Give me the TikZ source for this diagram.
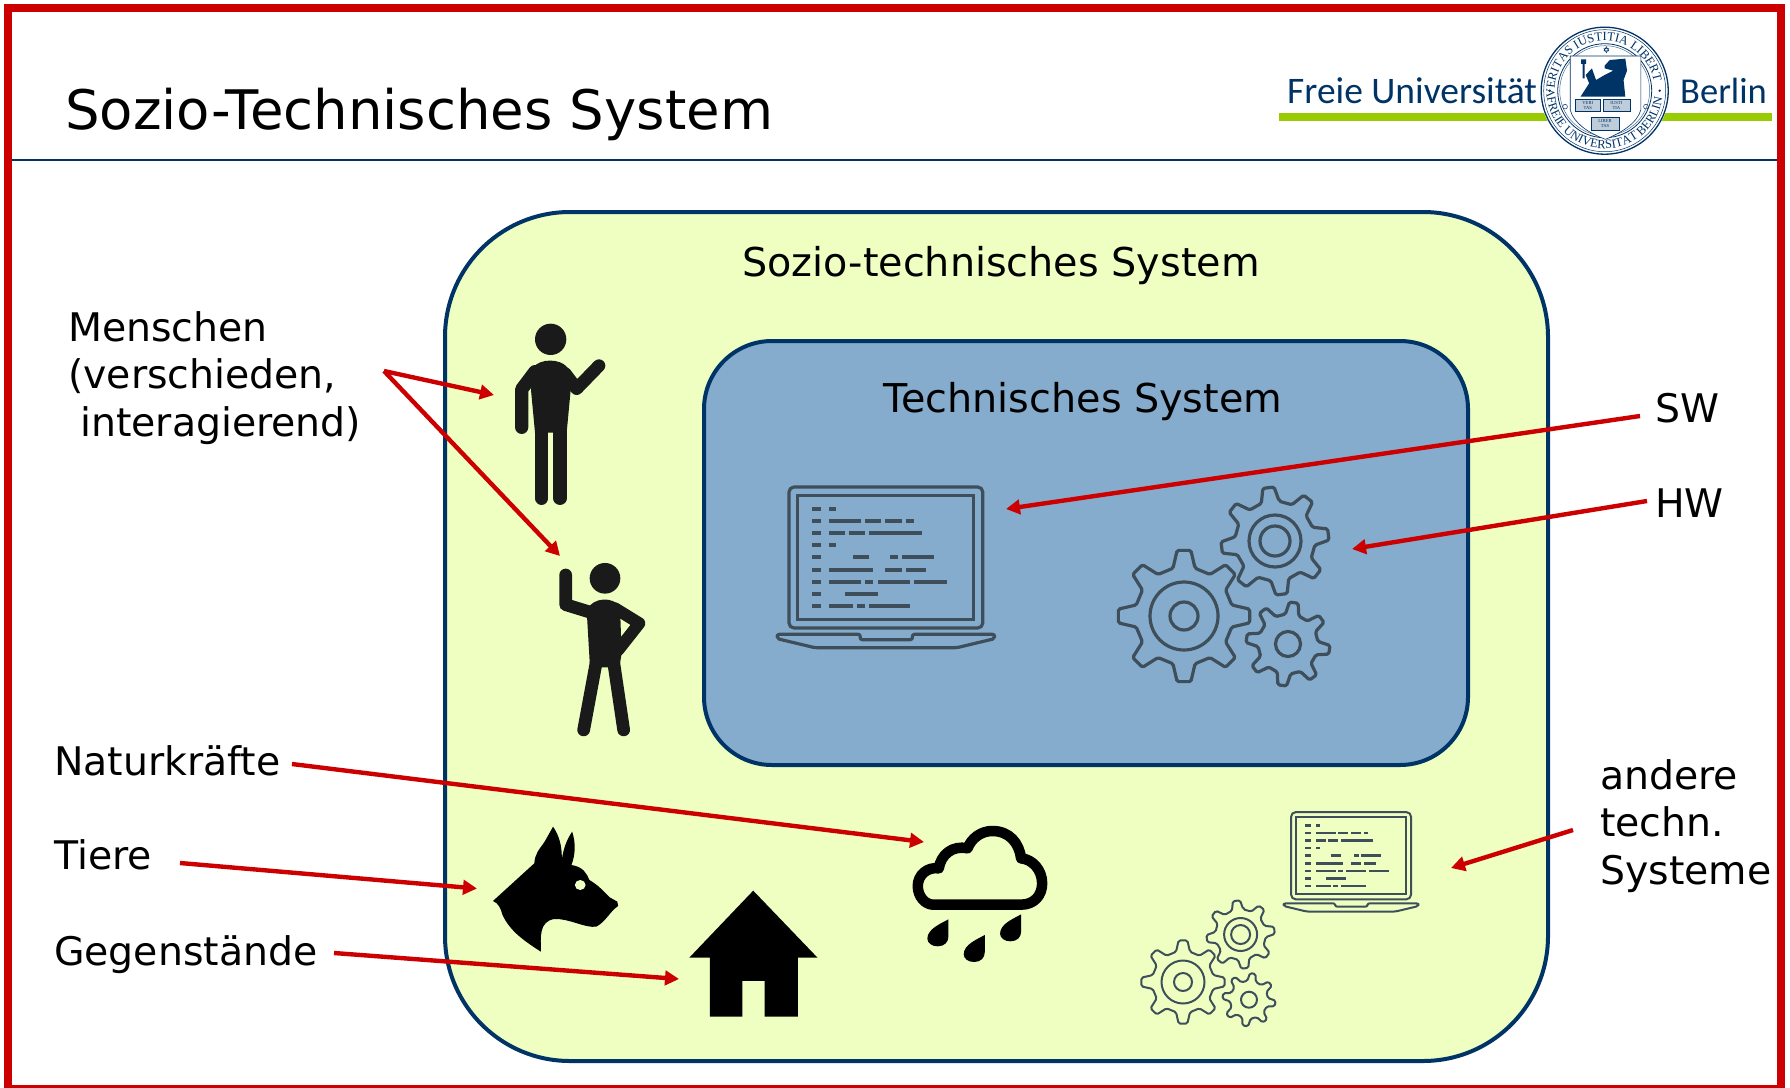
\documentclass[tikz,border=0pt]{standalone}
\usepackage{fontspec}
\setmainfont{DejaVu Sans}
\newfontfamily\logofont{Carlito}
\newfontfamily\sealfont{Liberation Serif}
\usetikzlibrary{arrows.meta,decorations.text}
\definecolor{frameRed}{HTML}{CC0000}
\definecolor{fuNavy}{HTML}{003366}
\definecolor{fuGreen}{HTML}{99CC00}
\definecolor{boxYellow}{HTML}{EEFFC1}
\definecolor{boxBlue}{HTML}{85ACCD}
\definecolor{iconSlate}{HTML}{3E4E5A}
\definecolor{personBlack}{HTML}{1A1A1A}
\tikzset{
  pointer/.style={draw=frameRed,line width=4.4pt,-{Triangle[length=14pt,width=14.5pt]}},
  bodytext/.style={inner sep=0pt,font=\fontsize{39.4}{47.5}\selectfont},
  headingtext/.style={inner sep=0pt,font=\fontsize{39.7}{48}\selectfont},
  limb/.style={draw=personBlack,line cap=round,line join=round},
  panel/.style={draw=fuNavy,line width=.5pt,fill=fuNavy!25},
  paneltext/.style={inner sep=0pt,text=fuNavy,align=center,font=\sealfont\fontsize{4.6}{5}\selectfont}
}
% laptop: origin, scale, stroke
\newcommand{\laptopicon}[4]{%
\begin{scope}[shift={(#1,#2)},scale=#3,x=.3954pt,y=-.3333pt,shift={(-125,-80)}]
  \draw[iconSlate,line width=#4pt,line join=round,rounded corners=5pt] (125,503) -- (125,80) -- (615,80) -- (615,503) -- cycle;
  \draw[iconSlate,line width=#4pt] (147,106) rectangle (592,478);
  \draw[iconSlate,line width=#4pt,line join=round,rounded corners=2pt] (95,522) -- (305,522) -- (305,538) -- (437,538) -- (437,522) -- (645,522) -- (645,535) -- (550,562) -- (190,562) -- (95,535) -- cycle;
  \foreach \ypos/\segs in {
    145/{183/205,225/245},
    181/{183/205,225/307,318/358,369/411,421/441},
    218/{183/205,225/267,277/318,328/461},
    255/{183/205,225/245},
    291/{183/205,287/328,380/401,411/492},
    328/{183/205,225/338,369/411,421/472},
    365/{183/205,225/307,318/338,349/431,442/524},
    402/{183/205,267/349},
    438/{183/205,225/287,297/318,328/431}}{
    \foreach \xa/\xb in \segs { \fill[iconSlate] (\xa,\ypos-6) rectangle (\xb,\ypos+6); }
  }
\end{scope}}
% one gear: centre x,y, rotation, outer, root, ring radius (0 = none), hub, stroke
\newcommand{\gearicon}[8]{%
\begin{scope}[shift={(#1,#2)}]
  \draw[iconSlate,line width=#8pt,line join=round,rounded corners=1.6pt]
    (#3-13:#5) \foreach \k in {0,...,7} {
      -- (#3+\k*45-13:#5) -- (#3+\k*45-6:#4) -- (#3+\k*45+6:#4) -- (#3+\k*45+13:#5)
    } -- cycle;
  \ifdim #6pt>0pt \draw[iconSlate,line width=#8pt] (0,0) circle (#6); \fi
  \draw[iconSlate,line width=#8pt] (0,0) circle (#7);
\end{scope}}
\newcommand{\dropicon}[2]{\fill[black] (#1,#2) .. controls (#1-18,#2+12) and (#1-55,#2+28) .. (#1-55,#2+58) .. controls (#1-55,#2+72) and (#1-42,#2+81) .. (#1-28,#2+81) .. controls (#1-10,#2+81) and (#1,#2+68) .. (#1,#2+52) -- cycle;}
\begin{document}
\begin{tikzpicture}[x=1pt,y=1pt]
\useasboundingbox (0,-1087) rectangle (1790,0);
\fill[white] (0,-1087) rectangle (1790,0);
% frame
\begin{scope}
\clip (0,-1087) rectangle (1790,0);
\draw[frameRed,line width=8.2pt] (8.3,-7.8) rectangle (1781,-1089);
\end{scope}
\draw[fuNavy,line width=1.8pt] (12,-160) -- (1777,-160);
\node[anchor=base west,inner sep=0pt,font=\fontsize{54.5}{60}\selectfont] (title) at (65,-129) {Sozio-Technisches System};
% logo
\fill[fuGreen] (1279,-113) rectangle (1772,-121);
\node[anchor=base west,inner sep=0pt,text=fuNavy,font=\logofont\fontsize{37.5}{40}\selectfont] (logoFU) at (1287,-103) {Freie Universität};
\node[anchor=base west,inner sep=0pt,text=fuNavy,font=\logofont\fontsize{36.5}{40}\selectfont] (logoBerlin) at (1680,-103) {Berlin};
\begin{scope}[shift={(1604.7,-90.7)}]
  \fill[white] (0,0) circle (64.5);
  \draw[fuNavy,line width=1.3pt] (0,0) circle (63.5);
  \draw[fuNavy,line width=.5pt] (0,0) circle (61);
  \draw[fuNavy,line width=.8pt] (0,0) circle (47);
  \draw[fuNavy!70,line width=.5pt] (0,0) circle (45);
  \path[decorate,decoration={text along path,text align=center,text={|\sealfont\fontsize{12.5}{13}\selectfont\color{fuNavy}|VERITAS IUSTITIA LIBERTAS}}] (172:50) arc (172:8:50);
  \path[decorate,decoration={text along path,text align=center,text={|\sealfont\fontsize{12.5}{13}\selectfont\color{fuNavy}|FREIE UNIVERSITAT BERLIN}}] (188:58) arc (188:352:58);
  \fill[fuNavy] (-55,0) circle (1.3) (55,0) circle (1.3);
\end{scope}
\begin{scope}[shift={(1250,0)},x=.3443pt,y=-.3333pt]
  \draw[fuNavy,line width=.6pt,fill=white] (930,168) -- (1135,168) -- (1135,330) .. controls (1125,370) and (1075,400) .. (1032,418) .. controls (985,400) and (940,370) .. (930,330) -- cycle;
  \fill[fuNavy] (1030,197) -- (1045,180) -- (1090,176) -- (1095,212) -- (1085,240) -- (1090,290) -- (960,290) -- (985,250) -- (975,225) -- (993,205) -- (1005,240) -- (1030,225) -- (1055,212) -- (1030,205) -- cycle;
  \fill[fuNavy] (962,178) rectangle (976,192) (966,192) rectangle (972,235);
  \draw[fuNavy,line width=.5pt] (1035,140) -- (1028,153) -- (1042,153) -- cycle (1035,158) -- (1028,146) -- (1042,146) -- cycle;
  \draw[fuNavy,line width=.5pt] (915,320) circle (7) (1150,320) circle (7);
  \draw[panel] (945,298) rectangle (1017,335);
  \draw[panel] (1025,298) rectangle (1103,335);
  \draw[panel] (990,352) rectangle (1072,392);
  \node[paneltext] (panelA) at (981,316.5) {VERI\\TAS};
  \node[paneltext] (panelB) at (1064,316.5) {IUSTI\\TIA};
  \node[paneltext] (panelC) at (1031,372) {LIBER\\TAS};
\end{scope}
% boxes
\draw[fuNavy,line width=4pt,fill=boxYellow,rounded corners=125pt] (445,-212) rectangle (1548,-1061);
\draw[fuNavy,line width=4pt,fill=boxBlue,rounded corners=68pt] (704,-341) rectangle (1468,-765);
\node[anchor=base,headingtext] (sozio) at (1001,-276) {Sozio-technisches System};
\node[anchor=base,headingtext] (tech) at (1083,-412) {Technisches System};
% icons
\laptopicon{789}{-487}{1}{3.2}
\laptopicon{1291}{-812}{.62}{2}
\gearicon{1184}{-616}{90}{66}{49}{34}{14}{3.2}
\gearicon{1275}{-541}{97}{54}{40}{26}{15}{3.2}
\gearicon{1288}{-644}{82}{42}{30}{0}{12.5}{3.2}
\gearicon{1183}{-982}{90}{41.8}{31}{21.5}{9}{2}
\gearicon{1240.6}{-934.5}{97}{34.2}{25.3}{16.5}{9.5}{2}
\gearicon{1249}{-999.7}{82}{26.6}{19}{0}{8}{2}
% persons
\begin{scope}[shift={(480,-310)},x=.3333pt,y=-.3333pt]
  \fill[personBlack] (212,88) circle (47);
  \fill[personBlack] (160,172) .. controls (180,145) and (240,145) .. (262,172) -- (272,240) -- (260,368) -- (165,368) -- (153,240) -- cycle;
  \draw[limb,line width=13.3pt] (165,185) -- (125,238) -- (125,352);
  \draw[limb,line width=12.7pt] (255,190) -- (290,236) -- (357,167);
  \draw[limb,line width=13.3pt] (185,350) -- (185,565);
  \draw[limb,line width=13.3pt] (240,350) -- (240,565);
  \fill[personBlack] (375,805) circle (46);
  \fill[personBlack] (320,900) .. controls (340,860) and (400,860) .. (420,890) -- (425,1030) -- (418,1072) -- (330,1072) -- cycle;
  \draw[limb,line width=12.7pt] (335,908) -- (257,884) -- (257,795);
  \draw[limb,line width=12pt] (405,895) -- (478,940) -- (415,1020);
  \draw[limb,line width=12.7pt] (350,1050) -- (311,1260);
  \draw[limb,line width=12.7pt] (400,1050) -- (431,1260);
  \fill[boxYellow] (431,941) -- (447,946) -- (429,971) -- cycle;
\end{scope}
% dog, house, cloud
\begin{scope}[shift={(470,-800)},x=.3827pt,y=-.3333pt]
  \fill[black,even odd rule] (60,303) -- (168,190) .. controls (170,160) and (180,150) .. (195,125) -- (217,80) .. controls (235,110) and (240,140) .. (240,178) .. controls (245,140) and (255,115) .. (267,95) .. controls (277,130) and (275,165) .. (265,195) .. controls (295,200) and (305,220) .. (312,240) .. controls (335,255) and (350,275) .. (365,292) -- (385,305) -- (387,318) .. controls (365,335) and (355,365) .. (330,380) .. controls (300,385) and (260,355) .. (220,357) .. controls (180,365) and (185,410) .. (185,455) .. controls (145,425) and (105,395) .. (85,345) .. controls (80,325) and (75,310) .. (60,303) -- cycle;
  \fill[boxYellow] (288,255) ellipse (14 and 15);
  \fill[black] (740,272) -- (908,473) -- (857,473) -- (857,650) -- (770,650) -- (770,543) -- (712,543) -- (712,650) -- (627,650) -- (627,473) -- (573,473) -- cycle;
  \draw[black,line width=10.5pt,line join=round] (1210,314) -- (1440,314) .. controls (1475,314) and (1495,285) .. (1495,250) .. controls (1495,210) and (1470,178) .. (1440,175) .. controls (1435,130) and (1410,93) .. (1365,93) .. controls (1335,93) and (1310,115) .. (1300,145) .. controls (1260,135) and (1230,165) .. (1225,205) .. controls (1195,200) and (1170,225) .. (1170,258) .. controls (1170,290) and (1190,314) .. (1210,314) -- cycle;
  \dropicon{1250}{358}
  \dropicon{1345}{405}
  \dropicon{1440}{343}
\end{scope}
% labels
\node[anchor=north west,bodytext,align=left] (menschen) at (68,-311) {Menschen\\(verschieden,\\\hspace*{12pt}interagierend)};
\node[anchor=base west,bodytext] (sw) at (1655,-422) {SW};
\node[anchor=base west,bodytext] (hw) at (1655,-517) {HW};
\node[anchor=base west,bodytext] (natur) at (54,-775) {Naturkräfte};
\node[anchor=base west,bodytext] (tiere) at (54,-869) {Tiere};
\node[anchor=base west,bodytext] (gegen) at (54,-965) {Gegenstände};
\node[anchor=north west,bodytext,align=left] (andere) at (1600,-759) {andere\\techn.\\Systeme};
% connector ends
\coordinate (fromMenschen) at (384,-371);
\coordinate (toPersonA) at (494,-395);
\coordinate (toPersonB) at (560,-556);
\coordinate (fromSW) at (1640,-416);
\coordinate (toLaptop) at (1006,-509);
\coordinate (fromHW) at (1647,-501);
\coordinate (toGears) at (1352,-549);
\coordinate (fromNatur) at (292,-764);
\coordinate (toCloud) at (924,-842);
\coordinate (fromTiere) at (180,-863);
\coordinate (toDog) at (477,-888.5);
\coordinate (fromGegen) at (334,-953);
\coordinate (toHouse) at (679,-979);
\coordinate (fromAndere) at (1573,-830);
\coordinate (toOther) at (1451,-868);
\draw[pointer] (fromMenschen) -- (toPersonA);
\draw[pointer] (fromMenschen) -- (toPersonB);
\draw[pointer] (fromSW) -- (toLaptop);
\draw[pointer] (fromHW) -- (toGears);
\draw[pointer] (fromNatur) -- (toCloud);
\draw[pointer] (fromTiere) -- (toDog);
\draw[pointer] (fromGegen) -- (toHouse);
\draw[pointer] (fromAndere) -- (toOther);
\end{tikzpicture}
\end{document}
